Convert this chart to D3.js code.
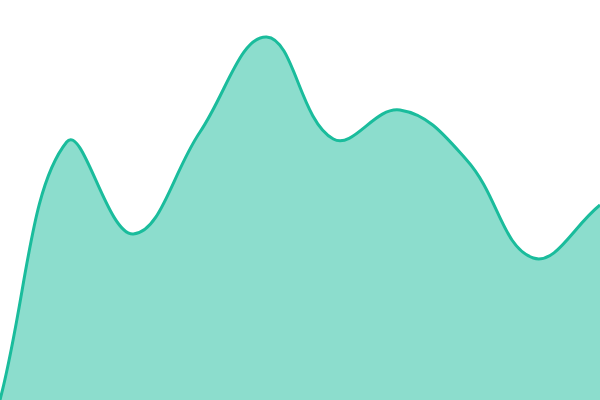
<!DOCTYPE html>
<html>
<head>
<meta charset="utf-8">
<script src="https://cdn.jsdelivr.net/npm/d3@7"></script>
<style>
  html, body { margin: 0; padding: 0; background: #fff; }
  svg { display: block; }
</style>
</head>
<body>
<svg id="chart" width="600" height="400"></svg>
<script>
// points along the x axis and the values
var steps = [0, 1, 2, 3, 4, 5, 6, 7, 8, 9];
var values = [0, 64.5, 41.5, 67, 90.75, 65.25, 72.5, 60, 35.5, 48.75];

var width = 600, height = 400;
var svg = d3.select("#chart");

var x = d3.scaleLinear().domain([0, 9]).range([0, width]);
var y = d3.scaleLinear().domain([0, 100]).range([height, 0]);

var data = steps.map(function(s, i) { return { s: s, v: values[i] }; });

// spline with control points weighted by segment length (tension 0.4)
function tensionCurve(context) { return new TensionCurve(context, 0.4); }
function TensionCurve(context, t) { this._context = context; this._t = t; }
TensionCurve.prototype = {
  areaStart: function() { this._line = 0; },
  areaEnd: function() { this._line = NaN; },
  lineStart: function() { this._pts = []; },
  lineEnd: function() {
    var p = this._pts, n = p.length, c = this._context, t = this._t;
    if (n) {
      this._line ? c.lineTo(p[0][0], p[0][1]) : c.moveTo(p[0][0], p[0][1]);
      var cps = p.map(function(cur, i) {
        var prev = p[i - 1] || cur, next = p[i + 1] || cur;
        var d01 = Math.hypot(cur[0] - prev[0], cur[1] - prev[1]);
        var d12 = Math.hypot(next[0] - cur[0], next[1] - cur[1]);
        var s01 = d01 / (d01 + d12 || 1), s12 = d12 / (d01 + d12 || 1);
        var fa = t * (isNaN(s01) ? 0 : s01), fb = t * (isNaN(s12) ? 0 : s12);
        return {
          px: cur[0] - fa * (next[0] - prev[0]), py: cur[1] - fa * (next[1] - prev[1]),
          nx: cur[0] + fb * (next[0] - prev[0]), ny: cur[1] + fb * (next[1] - prev[1])
        };
      });
      for (var i = 1; i < n; i++) {
        c.bezierCurveTo(cps[i - 1].nx, cps[i - 1].ny, cps[i].px, cps[i].py, p[i][0], p[i][1]);
      }
    }
    if (this._line || (this._line !== 0 && n === 1)) c.closePath();
    this._line = 1 - this._line;
  },
  point: function(px, py) { this._pts.push([+px, +py]); }
};

var area = d3.area()
    .x(function(d) { return x(d.s); })
    .y0(y(0))
    .y1(function(d) { return y(d.v); })
    .curve(tensionCurve);

var line = d3.line()
    .x(function(d) { return x(d.s); })
    .y(function(d) { return y(d.v); })
    .curve(tensionCurve);

svg.append("path")
  .datum(data)
  .attr("d", area)
  .attr("fill", "rgba(26,188,156,0.5)");

svg.append("path")
  .datum(data)
  .attr("d", line)
  .attr("fill", "none")
  .attr("stroke", "#1abc9c")
  .attr("stroke-width", 3);
</script>
</body>
</html>
